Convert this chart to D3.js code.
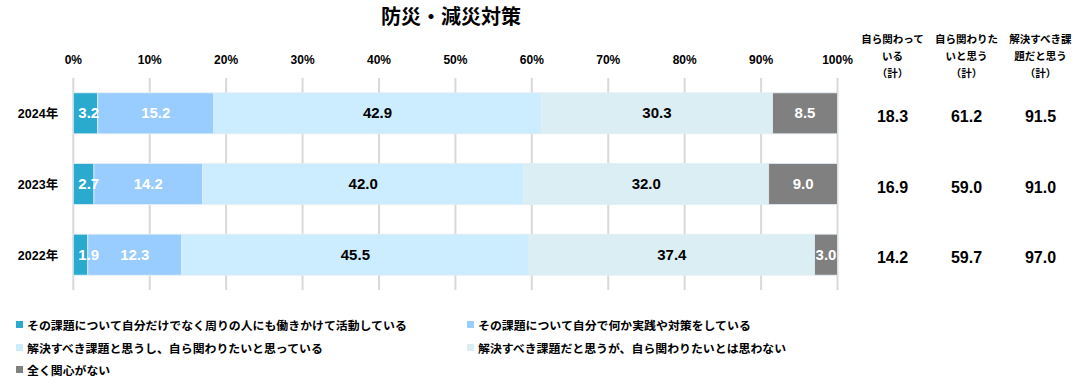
<!DOCTYPE html>
<html><head><meta charset="utf-8">
<script src="https://cdn.jsdelivr.net/npm/d3@7"></script>
<style>
body{margin:0;background:#fff;}
svg text{font-family:"Liberation Sans","Noto Sans CJK JP",sans-serif;font-weight:bold;}
</style></head>
<body><svg id="c" width="1079" height="383"></svg>
<script>
const title = "防災・減災対策";
const years = ["2024年","2023年","2022年"];
const seriesNames = [
  "その課題について自分だけでなく周りの人にも働きかけて活動している",
  "その課題について自分で何か実践や対策をしている",
  "解決すべき課題と思うし、自ら関わりたいと思っている",
  "解決すべき課題だと思うが、自ら関わりたいとは思わない",
  "全く関心がない"
];
const s1 = [3.2, 2.7, 1.9];
const s2 = [15.2, 14.2, 12.3];
const s3 = [42.9, 42.0, 45.5];
const s4 = [30.3, 32.0, 37.4];
const s5 = [8.5, 9.0, 3.0];
const colors = ["#2AAACE","#99CCFF","#CCECFF","#DAEEF3","#808080"];
const labelColors = ["#fff","#fff","#000","#000","#fff"];
const tickValues = [0,10,20,30,40,50,60,70,80,90,100];
const sumHeaders = [["自ら関わって","いる","（計）"],["自ら関わりた","いと思う","（計）"],["解決すべき課","題だと思う","（計）"]];
const sumActive = [18.3, 16.9, 14.2];
const sumWant = [61.2, 59.0, 59.7];
const sumShould = [91.5, 91.0, 97.0];

const svg = d3.select("#c");
const series = [s1,s2,s3,s4,s5];
const x = d3.scaleLinear().domain([0,100]).range([73.3,837.5]);
const y = d3.scaleBand().domain(years).range([78,290]).paddingInner(0.42).paddingOuter(0.21);

svg.append("text").attr("x",451).attr("y",24).attr("text-anchor","middle")
  .style("font-size","20px").style("font-family","'Noto Sans CJK JP'").text(title);

// grid
svg.append("g").selectAll("line").data(tickValues).join("line")
  .attr("x1",d=>x(d)).attr("x2",d=>x(d)).attr("y1",78).attr("y2",290)
  .attr("stroke","#D9D9D9").attr("stroke-width",2);
// tick labels
svg.append("g").selectAll("text").data(tickValues).join("text")
  .attr("x",d=>x(d)).attr("y",64).attr("text-anchor","middle")
  .style("font-size","12px").text(d=>d+"%");

const barG = svg.append("g"), labG = svg.append("g");
years.forEach((yr,i)=>{
  const vals = series.map(s=>s[i]);
  const total = d3.sum(vals);
  let cum = 0;
  vals.forEach((v,j)=>{
    const a = cum/total*100, b = (cum+v)/total*100;
    cum += v;
    barG.append("rect").attr("x",x(a)).attr("y",y(yr)).attr("width",x(b)-x(a)).attr("height",y.bandwidth())
      .attr("fill",colors[j]).attr("stroke","#E3EEF5").attr("stroke-width",0.8);
    let cx = (x(a)+x(b))/2;
    if (j===0) cx = Math.max(cx, x(a)+15.5);
    labG.append("text").attr("x",cx).attr("y",y(yr)+y.bandwidth()/2+5).attr("text-anchor","middle")
      .attr("fill",labelColors[j]).style("font-size","15px").text(v.toFixed(1));
  });
  svg.append("text").attr("x",38).attr("y",y(yr)+y.bandwidth()/2+5).attr("text-anchor","middle")
    .style("font-size","12.5px").text(yr);
});

// summary columns
const colX = [892.5,966.5,1040.5];
const sums = [sumActive,sumWant,sumShould];
sumHeaders.forEach((lines,k)=>{
  lines.forEach((t,li)=>{
    svg.append("text").attr("x",colX[k]).attr("y",43+li*17).attr("text-anchor","middle")
      .style("font-size","10.5px").style("font-family","'Noto Sans CJK JP'").text(t);
  });
  years.forEach((yr,i)=>{
    svg.append("text").attr("x",colX[k]).attr("y",y(yr)+y.bandwidth()/2+8.5).attr("text-anchor","middle")
      .style("font-size","16px").text(sums[k][i].toFixed(1));
  });
});

// legend
const legPos = [[16,325],[467,325],[16,348],[467,348],[16,370]];
seriesNames.forEach((n,j)=>{
  const [lx,ly] = legPos[j];
  svg.append("rect").attr("x",lx).attr("y",ly-4).attr("width",7).attr("height",7).attr("fill",colors[j]);
  svg.append("text").attr("x",lx+11).attr("y",ly+4.5).style("font-size","11.9px")
    .style("font-family","'Noto Sans CJK JP'").text(n);
});
</script></body></html>
